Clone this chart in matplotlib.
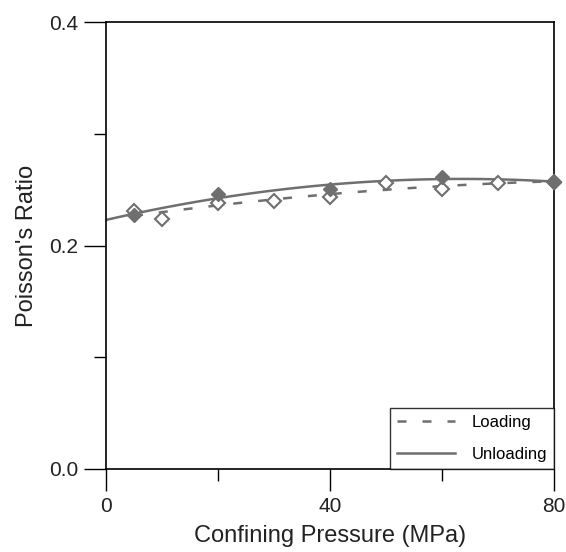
import matplotlib
matplotlib.use('Agg')
import matplotlib.pyplot as plt
from matplotlib.ticker import MultipleLocator
import numpy as np

plt.rcParams['font.family'] = ['Liberation Sans', 'DejaVu Sans']

# loading (open diamonds)
p_load = [5, 10, 20, 30, 40, 50, 60, 70, 80]
nu_load = [0.231, 0.224, 0.238, 0.240, 0.243, 0.256, 0.251, 0.256, 0.257]
# unloading (filled diamonds)
p_unload = [5, 20, 40, 60, 80]
nu_unload = [0.227, 0.246, 0.251, 0.261, 0.257]

grey = '#6f6f6f'

fig = plt.figure(figsize=(5.66, 5.52), dpi=100)
ax = fig.add_axes([0.1873, 0.1504, 0.9788 - 0.1873, 0.960 - 0.1504])

# fitted trend lines
c_load = np.polyfit(p_load, nu_load, 2)
c_unload = np.polyfit(p_unload, nu_unload, 2)
xl = np.linspace(5, 80, 100)
xu = np.linspace(0, 80, 100)
ax.plot(xl, np.polyval(c_load, xl), '--', color=grey, lw=1.8, dashes=(3.6, 6.4), label='Loading')
ax.plot(xu, np.polyval(c_unload, xu), '-', color=grey, lw=1.8, label='Unloading')

ax.plot(p_load, nu_load, 'D', ms=7, mfc='white', mec=grey, mew=1.5, clip_on=False, zorder=3)
ax.plot(p_unload, nu_unload, 'D', ms=7, mfc=grey, mec=grey, clip_on=False, zorder=4)

ax.set_xlim(0, 80)
ax.set_ylim(0, 0.4)
ax.xaxis.set_major_locator(MultipleLocator(40))
ax.xaxis.set_minor_locator(MultipleLocator(20))
ax.yaxis.set_major_locator(MultipleLocator(0.2))
ax.yaxis.set_minor_locator(MultipleLocator(0.1))
ax.set_yticklabels(['%.1f' % v for v in ax.get_yticks()])
ax.tick_params(which='major', direction='out', length=16, width=1, labelsize=15,
               pad=4, labelcolor='#222222')
ax.tick_params(which='minor', direction='out', length=8.5, width=1)
for s in ax.spines.values():
    s.set_linewidth(1.2)

ax.set_xlabel('Confining Pressure (MPa)', fontsize=17, labelpad=7, color='#222222')
ax.set_ylabel("Poisson's Ratio", fontsize=17, labelpad=8, color='#222222')

leg = ax.legend(loc='lower right', fontsize=12, handlelength=3.5, frameon=True,
                fancybox=False, borderaxespad=0, borderpad=0.4, labelspacing=1.05,
                handletextpad=1.0, handleheight=0.7)
leg.get_frame().set_edgecolor('black')
leg.get_frame().set_linewidth(1)

fig.savefig('out.png', dpi=100)
